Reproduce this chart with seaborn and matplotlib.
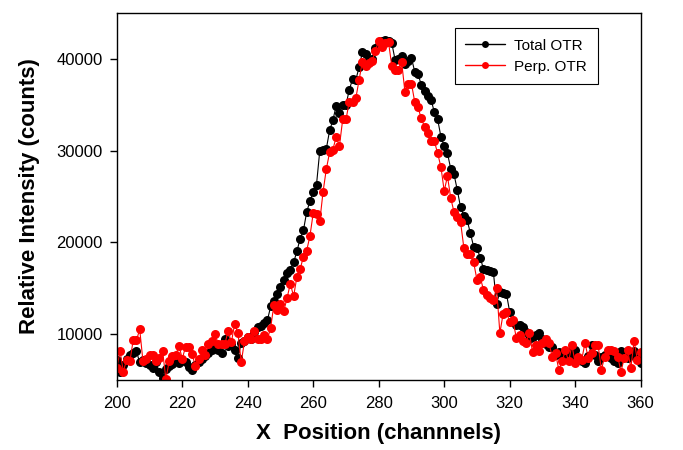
import numpy as np
import pandas as pd
import matplotlib.pyplot as plt
import seaborn as sns

# channel positions (one point per channel)
channels = np.arange(200, 361)

# Total OTR intensity (counts), channels 200..360
total_otr = [
    7200, 5800, 6600, 7300, 7700, 7900, 8100, 6900, 7200, 6800,   # 200-209
    6600, 6300, 6900, 5800, 5200, 6200, 6500, 6700, 7000, 6800,   # 210-219
    7200, 6900, 6400, 6100, 6600, 6900, 7300, 7600, 7900, 8300,   # 220-229
    8500, 8200, 7900, 9400, 8700, 8900, 8200, 7400, 9000, 9200,   # 230-239
    9700, 9500, 10200, 10800, 10900, 11200, 11500, 13000, 13600, 14400,  # 240-249
    15100, 15900, 16700, 17000, 17800, 19000, 20400, 21300, 23300, 24500,  # 250-259
    25500, 26300, 30000, 30100, 30200, 32200, 33300, 34900, 34100, 35000,  # 260-269
    35000, 36600, 37800, 37700, 39100, 40700, 40500, 39900, 40000, 41200,  # 270-279
    41500, 41900, 42100, 42000, 41700, 39900, 40000, 40300, 39400, 39800,  # 280-289
    40100, 38600, 38300, 37200, 36500, 35900, 35500, 34200, 33400, 31500,  # 290-299
    30500, 29700, 28000, 27400, 25700, 23800, 22900, 22400, 21000, 19500,  # 300-309
    19400, 18300, 17100, 17000, 16900, 16800, 13300, 14600, 14500, 14400,  # 310-319
    12400, 11300, 11000, 11000, 10800, 10200, 9500, 9700, 9900, 10100,    # 320-329
    9500, 8900, 8600, 8600, 7700, 8000, 7600, 7400, 8000, 7700,          # 330-339
    8200, 7400, 7100, 6800, 7600, 8800, 7700, 7000, 7500, 7700,          # 340-349
    7600, 7400, 7000, 6800, 8100, 7600, 7400, 7800, 8100, 7300,          # 350-359
    6800,                                                               # 360
]

# Perpendicular OTR intensity (counts), channels 200..360
perp_otr = [
    6300, 8100, 5900, 7200, 7000, 9300, 9300, 10500, 7000, 7300,   # 200-209
    7700, 7700, 7000, 7400, 8100, 5100, 7000, 7600, 7700, 8700,    # 210-219
    7300, 8600, 8600, 7800, 6500, 7300, 8200, 7700, 8900, 9200,    # 220-229
    10000, 8900, 8900, 8900, 10300, 9100, 11100, 10100, 6900, 9200,  # 230-239
    9700, 9400, 10300, 9400, 9400, 9900, 9400, 10700, 13200, 12600,  # 240-249
    13300, 12500, 13900, 15500, 14100, 16200, 17100, 18400, 19100, 20700,  # 250-259
    23200, 23100, 22300, 25500, 28000, 29800, 30100, 31500, 30500, 33400,  # 260-269
    33400, 35300, 35300, 35700, 37700, 39700, 39200, 39500, 39800, 40900,  # 270-279
    42000, 41300, 41700, 41800, 39200, 38800, 38800, 39700, 36400, 37300,  # 280-289
    37300, 35300, 34700, 33500, 32600, 31900, 31000, 31000, 29700, 28200,  # 290-299
    25600, 27200, 24800, 23300, 22800, 22200, 19400, 18700, 18700, 17800,  # 300-309
    15900, 16200, 14800, 14200, 13900, 13700, 15000, 10100, 12200, 12400,  # 310-319
    11300, 11500, 9600, 9900, 9200, 9000, 10100, 8000, 8800, 8100,        # 320-329
    9000, 9500, 9000, 7500, 7900, 6100, 7000, 8200, 7000, 8800,          # 330-339
    6800, 7500, 7200, 9000, 7400, 7900, 8800, 8800, 6100, 7500,          # 340-349
    8300, 8300, 8100, 7500, 5900, 7400, 8300, 6300, 9200, 7200,          # 350-359
    8000,                                                               # 360
]

series_names = ["Total OTR", "Perp. OTR"]
series_colors = ["black", "red"]

df = pd.DataFrame({
    "channel": np.concatenate([channels, channels]),
    "intensity": total_otr + perp_otr,
    "series": [series_names[0]] * len(channels) + [series_names[1]] * len(channels),
})

sns.set_style("ticks")
plt.rcParams["font.family"] = ["Liberation Sans", "DejaVu Sans"]
plt.rcParams["text.color"] = "black"
plt.rcParams["axes.labelcolor"] = "black"

fig = plt.figure(figsize=(6.83, 4.5), dpi=100)
ax = fig.add_axes([0.171, 0.156, 0.767, 0.815])

sns.lineplot(
    data=df, x="channel", y="intensity", hue="series",
    hue_order=series_names, palette=series_colors,
    marker="o", markersize=6.5, markeredgewidth=0,
    linewidth=0.8, ax=ax, legend=False,
)

ax.set_xlim(200, 360)
ax.set_ylim(5000, 45000)
ax.set_xticks(np.arange(200, 361, 20))
ax.set_yticks([10000, 20000, 30000, 40000])

for sp in ax.spines.values():
    sp.set_visible(True)
    sp.set_color("black")
    sp.set_linewidth(1.0)

ax.tick_params(direction="out", length=5, width=1, labelsize=12,
               colors="black", labelcolor="black")
ax.tick_params(axis="x", pad=7)
ax.tick_params(axis="y", pad=5)

ax.set_xlabel("X  Position (channnels)", fontsize=16, fontweight="bold", labelpad=8)
ax.set_ylabel("Relative Intensity (counts)", fontsize=16, fontweight="bold", labelpad=12)

# legend with line+marker handles
handles = [
    plt.Line2D([], [], color=c, marker="o", markersize=5, linewidth=1.0, markeredgewidth=0)
    for c in series_colors
]
leg = ax.legend(handles, series_names, loc="upper right", bbox_to_anchor=(0.918, 0.959),
                borderaxespad=0, fontsize=11, fancybox=False, framealpha=1,
                edgecolor="black", handlelength=2.6, borderpad=0.7,
                labelspacing=0.45, handletextpad=0.6)
leg.get_frame().set_linewidth(0.8)

fig.savefig("out.png", dpi=100)
